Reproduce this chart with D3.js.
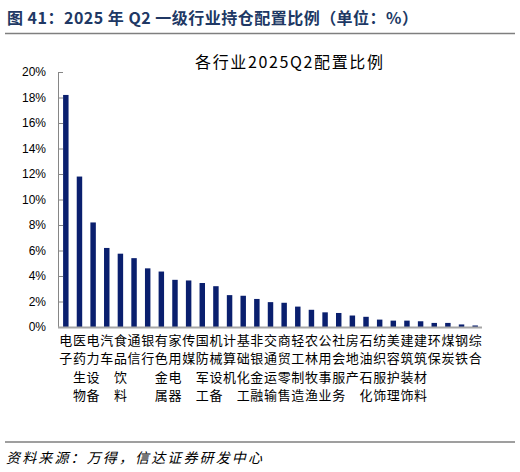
<!DOCTYPE html>
<html>
<head>
<meta charset="utf-8">
<script src="https://cdn.jsdelivr.net/npm/d3@7"></script>
<style>
  body { margin: 0; background: #fff; }
  svg { display: block; }
</style>
</head>
<body>
<div id="chart-area"></div>
<script>
// industry names, sorted by weight
const categories = ["电子", "医药生物", "电力设备", "汽车", "食品饮料", "通信", "银行", "有色金属",
  "家用电器", "传媒", "国防军工", "机械设备", "计算机", "基础化工", "非银金融", "交通运输",
  "商贸零售", "轻工制造", "农林牧渔", "公用事业", "社会服务", "房地产", "石油石化", "纺织服饰",
  "美容护理", "建筑装饰", "建筑材料", "环保", "煤炭", "钢铁", "综合"]

// allocation weight (%)
const values = [18.2, 11.8, 8.2, 6.2, 5.75, 5.4, 4.6, 4.35, 3.7, 3.65, 3.45, 3.2, 2.5, 2.45, 2.2, 1.95,
  1.9, 1.6, 1.35, 1.15, 1.1, 0.9, 0.8, 0.58, 0.5, 0.5, 0.45, 0.32, 0.32, 0.2, 0.12]

const yTicks = [0, 2, 4, 6, 8, 10, 12, 14, 16, 18, 20]

const W = 520, H = 472
const PLOT = { LEFT: 59, RIGHT: 482, TOP: 72, BOTTOM: 327 }

const svg = d3.select("#chart-area").append("svg")
  .attr("width", W)
  .attr("height", H)

// figure heading + rule
svg.append("text")
  .attr("x", 7)
  .attr("y", 24)
  .attr("font-family", "'Noto Sans CJK SC', 'Liberation Sans', sans-serif")
  .attr("font-size", "16px")
  .attr("font-weight", "bold")
  .attr("fill", "#203864")
  .attr("textLength", 411)
  .attr("lengthAdjust", "spacing")
  .text("图 41：2025 年 Q2 一级行业持仓配置比例（单位：%）")

svg.append("line")
  .attr("x1", 5).attr("x2", 515)
  .attr("y1", 33.5).attr("y2", 33.5)
  .attr("stroke", "#7f7f7f")
  .attr("stroke-width", 1.5)

// chart title
svg.append("text")
  .attr("x", 289)
  .attr("y", 68)
  .attr("text-anchor", "middle")
  .attr("font-family", "'Noto Sans CJK SC', sans-serif")
  .attr("font-size", "16px")
  .attr("fill", "#000")
  .attr("textLength", 188)
  .attr("lengthAdjust", "spacing")
  .text("各行业2025Q2配置比例")

const x = d3.scaleBand()
  .domain(categories)
  .range([PLOT.LEFT, PLOT.RIGHT])
  .paddingInner(0.6)
  .paddingOuter(0.3)

const y = d3.scaleLinear()
  .domain([0, 20])
  .range([PLOT.BOTTOM, PLOT.TOP])

// y axis, ticks pointing inward
const yAxisGroup = svg.append("g")
  .attr("transform", `translate(${PLOT.LEFT}, 0)`)
  .call(d3.axisLeft(y)
    .tickValues(yTicks)
    .tickSize(-4)
    .tickPadding(13)
    .tickFormat(d => d + "%"))

yAxisGroup.select(".domain")
  .attr("stroke", "#868686")
  .attr("d", `M-0.5,${PLOT.TOP}V${PLOT.BOTTOM}`)
yAxisGroup.selectAll(".tick line").attr("stroke", "#868686")
yAxisGroup.selectAll(".tick text")
  .attr("font-family", "'Liberation Sans', Arial, sans-serif")
  .attr("font-size", "12px")
  .attr("fill", "#000")

// bars
svg.selectAll("rect.bar")
  .data(values)
  .enter().append("rect")
  .attr("class", "bar")
  .attr("x", (d, i) => x(categories[i]))
  .attr("width", x.bandwidth())
  .attr("y", d => y(d))
  .attr("height", d => y(0) - y(d))
  .attr("fill", "#0a1f6e")

// x axis line
svg.append("line")
  .attr("x1", PLOT.LEFT - 1).attr("x2", PLOT.RIGHT)
  .attr("y1", y(0) + 0.5).attr("y2", y(0) + 0.5)
  .attr("stroke", "#a6a6a6")
  .attr("stroke-width", 2)

// vertical category labels, one character per row
const labels = svg.selectAll("g.label")
  .data(categories)
  .enter().append("g")
  .attr("class", "label")
  .attr("transform", d => `translate(${x(d) + x.bandwidth() / 2}, 0)`)

labels.selectAll("text")
  .data(d => Array.from(d))
  .enter().append("text")
  .attr("x", 0)
  .attr("y", (c, j) => 345 + j * 18.3)
  .attr("text-anchor", "middle")
  .attr("font-family", "'Noto Sans CJK SC', sans-serif")
  .attr("font-size", "13px")
  .attr("fill", "#000")
  .text(c => c)

// source footer
svg.append("line")
  .attr("x1", 5).attr("x2", 515)
  .attr("y1", 442).attr("y2", 442)
  .attr("stroke", "#7f7f7f")
  .attr("stroke-width", 1.5)

svg.append("text")
  .attr("x", 6)
  .attr("y", 463)
  .attr("font-family", "'Noto Sans CJK SC', sans-serif")
  .attr("font-size", "14px")
  .attr("font-style", "italic")
  .attr("fill", "#000")
  .attr("textLength", 256)
  .attr("lengthAdjust", "spacing")
  .text("资料来源：万得，信达证券研发中心")
</script>
</body>
</html>
